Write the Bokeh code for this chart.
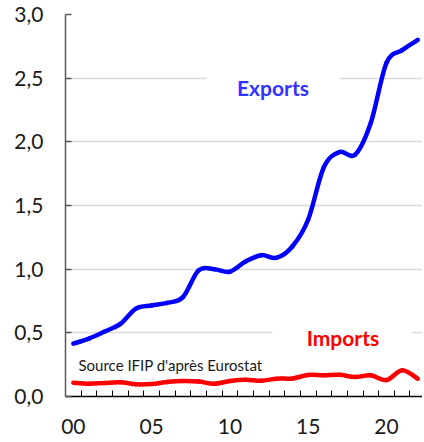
from bokeh.plotting import figure
from bokeh.models import Range1d, FixedTicker, Label, BoxAnnotation
from bokeh.embed import file_html
from bokeh.resources import INLINE

years = ["00", "01", "02", "03", "04", "05", "06", "07", "08", "09", "10", "11",
         "12", "13", "14", "15", "16", "17", "18", "19", "20", "21", "22"]
exports = [0.415, 0.455, 0.51, 0.57, 0.69, 0.715, 0.735, 0.78, 0.99, 1.00, 0.98, 1.06,
           1.11, 1.09, 1.18, 1.39, 1.80, 1.92, 1.90, 2.15, 2.62, 2.72, 2.80]
imports = [0.108, 0.100, 0.106, 0.111, 0.096, 0.098, 0.114, 0.122, 0.117, 0.100, 0.122, 0.132,
           0.124, 0.140, 0.142, 0.169, 0.166, 0.170, 0.153, 0.166, 0.129, 0.206, 0.140]
x_tick_labels = ["00", "05", "10", "15", "20"]
y_ticks = [0.0, 0.5, 1.0, 1.5, 2.0, 2.5, 3.0]
y_tick_labels = ["0,0", "0,5", "1,0", "1,5", "2,0", "2,5", "3,0"]

FONT = "Lato"

p = figure(width=422, height=441, output_backend="svg", toolbar_location=None,
           x_range=Range1d(-0.5, 22.3), y_range=Range1d(0, 3.0),
           min_border_left=65, min_border_right=0, min_border_top=14, min_border_bottom=45)
p.outline_line_color = None
p.background_fill_color = "white"
p.border_fill_color = "white"

# x axis: tick marks between categories, labels at category centres
xs = list(range(len(years)))
label_pos = [xs[years.index(t)] for t in x_tick_labels]
p.xaxis.ticker = FixedTicker(ticks=label_pos, minor_ticks=[i - 0.5 for i in range(len(years) + 1)])
p.xaxis.major_label_overrides = {pos: t for pos, t in zip(label_pos, x_tick_labels)}
p.xaxis.major_tick_in = 0
p.xaxis.major_tick_out = 0
p.xaxis.minor_tick_in = 6
p.xaxis.minor_tick_out = 0
p.xaxis.minor_tick_line_color = "#000000"
p.xaxis.minor_tick_line_width = 1
p.xaxis.axis_line_color = "#000000"
p.xaxis.axis_line_width = 1.5
p.xaxis.major_label_text_font = FONT
p.xaxis.major_label_text_font_size = "21px"
p.xaxis.major_label_text_color = "#1a1a1a"
p.xaxis.major_label_standoff = 22

# y axis
p.yaxis.ticker = FixedTicker(ticks=y_ticks)
p.yaxis.major_label_overrides = {v: t for v, t in zip(y_ticks, y_tick_labels)}
p.yaxis.major_tick_in = 6
p.yaxis.major_tick_out = 0
p.yaxis.minor_tick_line_color = None
p.yaxis.major_tick_line_color = "#595959"
p.yaxis.major_tick_line_width = 1.5
p.yaxis.axis_line_color = "#595959"
p.yaxis.axis_line_width = 1.5
p.yaxis.major_label_text_font = FONT
p.yaxis.major_label_text_font_size = "21px"
p.yaxis.major_label_text_color = "#1a1a1a"
p.yaxis.major_label_standoff = 22

p.xgrid.grid_line_color = None
p.ygrid.grid_line_color = "#d9d9d9"
p.ygrid.grid_line_width = 1.5
p.ygrid.ticker = FixedTicker(ticks=y_ticks[1:])


def smooth_segments(xv, yv):
    n = len(xv)
    seg = dict(x0=[], y0=[], x1=[], y1=[], cx0=[], cy0=[], cx1=[], cy1=[])
    for i in range(n - 1):
        xa, ya = xv[max(i - 1, 0)], yv[max(i - 1, 0)]
        xb, yb = xv[i], yv[i]
        xc, yc = xv[i + 1], yv[i + 1]
        xd, yd = xv[min(i + 2, n - 1)], yv[min(i + 2, n - 1)]
        seg["x0"].append(xb); seg["y0"].append(yb)
        seg["x1"].append(xc); seg["y1"].append(yc)
        seg["cx0"].append(xb + (xc - xa) / 6.0); seg["cy0"].append(yb + (yc - ya) / 6.0)
        seg["cx1"].append(xc - (xd - xb) / 6.0); seg["cy1"].append(yc - (yd - yb) / 6.0)
    return seg


se = smooth_segments(xs, exports)
p.bezier(x0=se["x0"], y0=se["y0"], x1=se["x1"], y1=se["y1"],
         cx0=se["cx0"], cy0=se["cy0"], cx1=se["cx1"], cy1=se["cy1"],
         line_color="#0000ff", line_width=4.5, line_cap="round")
si = smooth_segments(xs, imports)
p.bezier(x0=si["x0"], y0=si["y0"], x1=si["x1"], y1=si["y1"],
         cx0=si["cx0"], cy0=si["cy0"], cx1=si["cx1"], cy1=si["cy1"],
         line_color="#ff0000", line_width=4.5, line_cap="round")

# label backgrounds hiding gridlines
p.add_layout(BoxAnnotation(left=8.5, right=17.0, bottom=2.3, top=2.6,
                           fill_color="white", fill_alpha=1, line_color=None, level="underlay"))
p.add_layout(BoxAnnotation(left=12.72, right=21.66, bottom=0.42, top=0.58,
                           fill_color="white", fill_alpha=1, line_color=None, level="underlay"))

p.add_layout(Label(x=12.75, y=2.43, text="Exports", text_align="center", text_baseline="middle",
                   text_font=FONT, text_font_size="21px", text_font_style="bold",
                   text_color="#3333ff"))
p.add_layout(Label(x=17.22, y=0.467, text="Imports", text_align="center", text_baseline="middle",
                   text_font=FONT, text_font_size="21px", text_font_style="bold",
                   text_color="#ff0000"))
p.add_layout(Label(x=0.33, y=0.246, text="Source IFIP d'après Eurostat", text_align="left",
                   text_baseline="middle", text_font=FONT, text_font_size="15px",
                   text_color="#1a1a1a"))

open("out.html", "w").write(file_html(p, INLINE))
